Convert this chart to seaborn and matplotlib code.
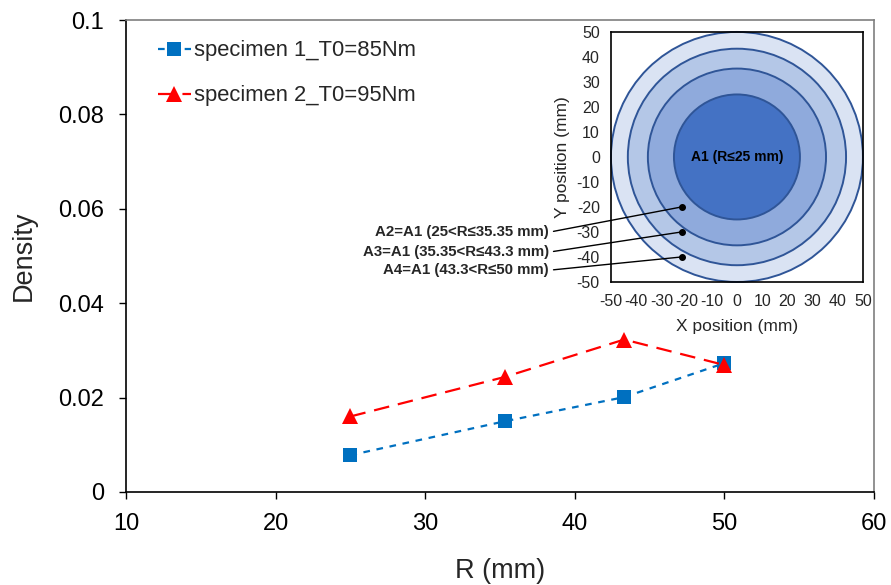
import matplotlib
matplotlib.use("Agg")
import matplotlib.pyplot as plt
from matplotlib.patches import Circle
import seaborn as sns
import pandas as pd

# Radial positions (mm) and densities for the two specimens
radius = [25, 35.35, 43.3, 50]
density_s1 = [0.0078, 0.0150, 0.0201, 0.0273]
density_s2 = [0.0160, 0.0244, 0.0323, 0.0269]
labels = ["specimen 1_T0=85Nm", "specimen 2_T0=95Nm"]

# Zone boundaries for the inset sketch
zone_radii = [50, 43.3, 35.35, 25]
zone_colors = ["#dae3f3", "#b4c7e7", "#8faadc", "#4472c4"]
zone_notes = ["A2=A1 (25<R\u226435.35 mm)",
              "A3=A1 (35.35<R\u226443.3 mm)",
              "A4=A1 (43.3<R\u226450 mm)"]
note_points_y = [-20, -30, -40]
inset_ticks = list(range(-50, 51, 10))

sns.set_style("white")
plt.rcParams["font.family"] = ["Liberation Sans", "DejaVu Sans"]
plt.rcParams["axes.unicode_minus"] = False

fig = plt.figure(figsize=(8.91, 5.85), dpi=100)
ax = fig.add_axes([0.1414, 0.159, 0.8396, 0.8068])

df1 = pd.DataFrame({"R": radius, "D": density_s1})
df2 = pd.DataFrame({"R": radius, "D": density_s2})
sns.lineplot(data=df1, x="R", y="D", ax=ax, color="#0070c0", marker="s",
             markersize=10, markeredgewidth=0, linewidth=1.6,
             dashes=False, label=labels[0])
sns.lineplot(data=df2, x="R", y="D", ax=ax, color="#ff0000", marker="^",
             markersize=12, markeredgewidth=0, linewidth=1.6,
             dashes=False, label=labels[1])
ax.lines[0].set_linestyle((0, (3, 3)))
ax.lines[1].set_linestyle((0, (7, 4)))

ax.set_xlim(10, 60)
ax.set_ylim(0, 0.1)
ax.set_xticks([10, 20, 30, 40, 50, 60])
ax.set_yticks([0, 0.02, 0.04, 0.06, 0.08, 0.1])
ax.set_yticklabels(["0", "0.02", "0.04", "0.06", "0.08", "0.1"])
ax.tick_params(axis="both", labelsize=17, direction="out", length=5,
               width=1, colors="black", bottom=True, left=True)
ax.tick_params(axis="y", pad=11)
ax.tick_params(axis="x", pad=10)
ax.set_xlabel("R (mm)", fontsize=19.5, labelpad=17)
ax.set_ylabel("Density", fontsize=19.5, labelpad=15)
for side in ["left", "bottom"]:
    ax.spines[side].set_color("black")
    ax.spines[side].set_linewidth(1.2)
for side in ["top", "right"]:
    ax.spines[side].set_color("#7f7f7f")
    ax.spines[side].set_linewidth(1.2)

leg = ax.legend(loc="upper left", bbox_to_anchor=(0.025, 0.985), frameon=False,
                fontsize=15.8, handlelength=1.5, handletextpad=0.15,
                labelspacing=1.1, borderaxespad=0.2)

# Inset: concentric measurement zones
ax_in = fig.add_axes([0.6857, 0.518, 0.2828, 0.4274])
for r, c in zip(zone_radii, zone_colors):
    ax_in.add_patch(Circle((0, 0), r, facecolor=c, edgecolor="#2f5597",
                           linewidth=1.4, clip_on=False))
ax_in.set_xlim(-50, 50)
ax_in.set_ylim(-50, 50)
ax_in.set_aspect("auto")
ax_in.set_xticks(inset_ticks)
ax_in.set_yticks(inset_ticks)
ax_in.tick_params(axis="both", labelsize=11.5, length=0)
ax_in.tick_params(axis="x", pad=9)
ax_in.tick_params(axis="y", pad=8)
ax_in.set_xlabel("X position (mm)", fontsize=12.5, labelpad=7)
ax_in.set_ylabel("Y position (mm)", fontsize=12.5, labelpad=5)
for s in ax_in.spines.values():
    s.set_color("black")
    s.set_linewidth(1.2)
ax_in.text(0, 0, "A1 (R\u226425 mm)", ha="center", va="center",
           fontsize=10, fontweight="bold", color="black")

note_text_y = [0.603, 0.569, 0.538]
for note, py, ty in zip(zone_notes, note_points_y, note_text_y):
    ax_in.plot([-22], [py], "o", color="black", markersize=4, clip_on=False)
    ax_in.annotate(note, xy=(-22, py), xycoords="data",
                   xytext=(0.616, ty), textcoords="figure fraction",
                   ha="right", va="center", fontsize=10.8, fontweight="bold",
                   arrowprops=dict(arrowstyle="-", color="black", lw=1,
                                   relpos=(1, 0.5), shrinkA=1, shrinkB=0))

fig.savefig("out.png", dpi=100)
